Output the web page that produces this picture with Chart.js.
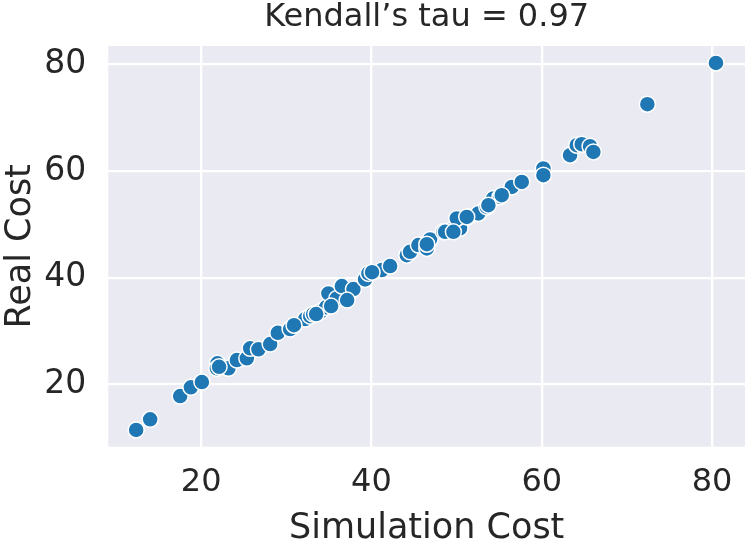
<!DOCTYPE html>
<html>
<head>
<meta charset="utf-8">
<script src="https://cdn.jsdelivr.net/npm/chart.js@4/dist/chart.umd.min.js"></script>
<style>
html,body{margin:0;padding:0;background:#fff;overflow:hidden;}
#wrap{width:747px;height:544px;position:relative;}
canvas{display:block;}
</style>
</head>
<body>
<div id="wrap"><canvas id="c" width="747" height="544"></canvas></div>
<script>
const titleText = "Kendall\u2019s tau = 0.97";
const xLabel = "Simulation Cost";
const yLabel = "Real Cost";
const tickValues = [20, 40, 60, 80];

const simulationCost = [
  12.36, 14.01, 17.53, 18.79, 20.08, 21.91, 21.84, 23.20, 24.19, 25.36,
  25.75, 26.72, 28.10, 29.00, 30.44, 32.21, 33.97, 34.67, 34.94, 35.93,
  36.52, 37.88, 39.25, 39.64, 41.21, 42.19, 44.15, 44.53, 45.51, 46.88,
  46.50, 48.44, 49.23, 50.40, 50.02, 51.38, 52.55, 53.54, 54.31, 55.10,
  56.48, 57.65, 60.19, 60.19, 63.32, 64.11, 64.69, 65.67, 66.06, 72.40,
  80.46, 32.80, 33.15, 35.26, 37.14, 40.07, 48.65, 49.62, 51.19, 53.73,
  55.30, 46.50, 22.10, 30.90, 33.50
];
const realCost = [
  11.44, 13.44, 17.81, 19.44, 20.44, 23.95, 23.01, 23.01, 24.56, 24.88,
  26.76, 26.57, 27.56, 29.68, 30.38, 32.25, 33.62, 34.45, 37.07, 36.13,
  38.44, 37.88, 39.70, 40.82, 41.44, 42.19, 44.25, 44.87, 46.13, 47.20,
  45.51, 48.62, 48.81, 49.26, 51.13, 51.43, 52.07, 53.31, 54.88, 55.18,
  57.06, 58.00, 60.51, 59.25, 63.00, 64.88, 65.07, 64.69, 63.62, 72.57,
  80.31, 32.80, 33.19, 34.69, 35.81, 41.06, 48.62, 48.62, 51.43, 53.63,
  55.50, 46.30, 23.30, 31.10, 33.20
];

const points = simulationCost.map((x, i) => ({x: x, y: realCost[i]}));

const bgPlugin = {
  id: 'bg',
  beforeDraw(chart) {
    const {ctx, chartArea: a} = chart;
    ctx.save();
    ctx.fillStyle = '#EAEAF2';
    ctx.fillRect(a.left, a.top, a.right - a.left, a.bottom - a.top);
    ctx.restore();
  }
};

const FONT = "'DejaVu Sans', sans-serif";
const TXT = '#262626';

function noPad(scale) {
  scale.paddingLeft = 0;
  scale.paddingRight = 0;
  scale.paddingTop = 0;
  scale.paddingBottom = 0;
}

new Chart(document.getElementById('c'), {
  type: 'scatter',
  data: {
    datasets: [{
      data: points,
      backgroundColor: '#1f77b4',
      borderColor: '#ffffff',
      borderWidth: 1.5,
      pointRadius: 8,
      pointHoverRadius: 8
    }]
  },
  options: {
    responsive: false,
    animation: false,
    devicePixelRatio: 1,
    layout: {autoPadding: false, padding: {left: 0, right: 2, top: 0, bottom: 0}},
    plugins: {
      legend: {display: false},
      tooltip: {enabled: false},
      title: {
        display: true,
        text: titleText,
        fullSize: false,
        color: TXT,
        font: {family: FONT, size: 32, weight: 'normal', lineHeight: 1.0},
        padding: {top: 2, bottom: 12}
      }
    },
    scales: {
      x: {
        type: 'linear',
        min: 9.09,
        max: 83.87,
        afterBuildTicks(scale) { scale.ticks = tickValues.map(v => ({value: v})); },
        afterFit(scale) { scale.height = 97.3; noPad(scale); },
        border: {display: false},
        grid: {color: '#ffffff', lineWidth: 2.3, drawTicks: false},
        ticks: {color: TXT, font: {family: FONT, size: 32}, padding: 17, maxRotation: 0},
        title: {
          display: true, text: xLabel, color: TXT,
          font: {family: FONT, size: 35, lineHeight: 0.84},
          padding: {top: 0, bottom: 0}
        }
      },
      y: {
        type: 'linear',
        min: 8.3,
        max: 83.5,
        afterBuildTicks(scale) { scale.ticks = tickValues.map(v => ({value: v})); },
        afterFit(scale) { scale.width = 108.3; noPad(scale); },
        border: {display: false},
        grid: {color: '#ffffff', lineWidth: 2.3, drawTicks: false},
        ticks: {color: TXT, font: {family: FONT, size: 33}, padding: 22},
        title: {
          display: true, text: yLabel, color: TXT,
          font: {family: FONT, size: 35, lineHeight: 1.0},
          padding: {top: 3.5, bottom: 0}
        }
      }
    }
  },
  plugins: [bgPlugin]
});
</script>
</body>
</html>
